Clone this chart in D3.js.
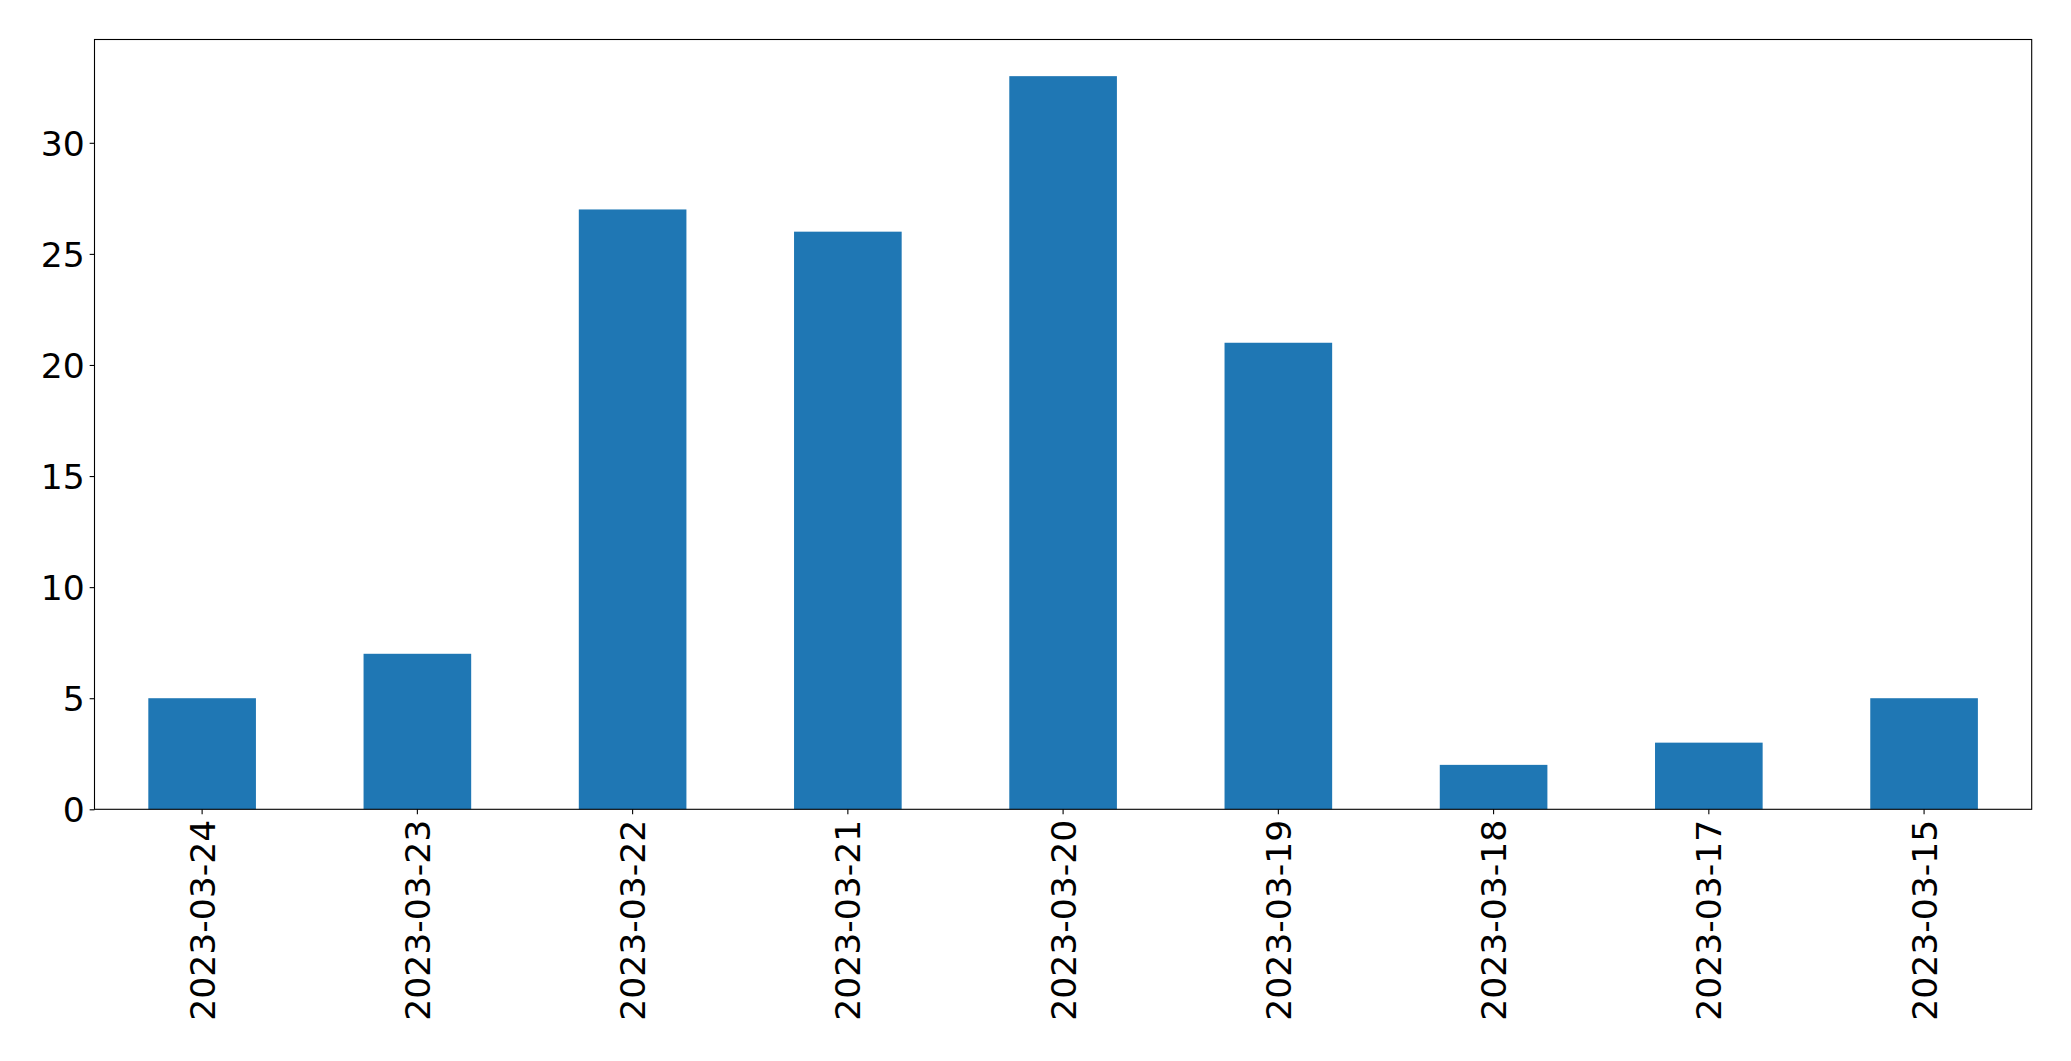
<!DOCTYPE html>
<html><head><meta charset="utf-8">
<script src="https://cdn.jsdelivr.net/npm/d3@7"></script>
<style>html,body{margin:0;padding:0;background:#fff;}svg{display:block;}</style>
</head><body>
<svg id="chart" width="2071" height="1061"></svg>
<script>
const categories = ["2023-03-24","2023-03-23","2023-03-22","2023-03-21","2023-03-20","2023-03-19","2023-03-18","2023-03-17","2023-03-15"];
const values = [5,7,27,26,33,21,2,3,5];
const yTicks = [0,5,10,15,20,25,30];

const W = 2071, H = 1061;
const m = {left:94.5, right:2071-2031.7, top:39.5, bottom:1061-809.3};
const svg = d3.select("#chart");
const fontSize = 34.6;
const font = "DejaVu Sans";

const x = d3.scaleBand().domain(categories).range([m.left, W-m.right]).paddingInner(0.5).paddingOuter(0.25);
const yMax = d3.max(values)*1.05;
const y = d3.scaleLinear().domain([0, yMax]).range([H-m.bottom, m.top]);

svg.append("g").selectAll("rect").data(values).join("rect")
  .attr("x",(d,i)=>x(categories[i]))
  .attr("width",x.bandwidth())
  .attr("y",d=>y(d))
  .attr("height",d=>y(0)-y(d))
  .attr("fill","#1f77b4");

const xAxis = svg.append("g").attr("transform",`translate(0,${H-m.bottom})`)
  .call(d3.axisBottom(x).tickSize(4.86).tickPadding(4.86).tickSizeOuter(0));
xAxis.select(".domain").remove();
xAxis.selectAll(".tick line").attr("stroke","#000").attr("stroke-width",1.1);
xAxis.selectAll(".tick text")
  .attr("font-family",font).attr("font-size",fontSize).attr("fill","#000")
  .attr("text-anchor","end")
  .attr("transform","rotate(-90)")
  .attr("x",-10.5).attr("y",0).attr("dy","0.36em");

const yAxis = svg.append("g").attr("transform",`translate(${m.left},0)`)
  .call(d3.axisLeft(y).tickValues(yTicks).tickSize(4.86).tickPadding(4.86).tickSizeOuter(0));
yAxis.select(".domain").remove();
yAxis.selectAll(".tick line").attr("stroke","#000").attr("stroke-width",1.1);
yAxis.selectAll(".tick text").attr("font-family",font).attr("font-size",fontSize).attr("fill","#000").attr("dy","0.36em");

svg.append("rect").attr("x",m.left).attr("y",m.top)
  .attr("width",W-m.right-m.left).attr("height",H-m.bottom-m.top)
  .attr("fill","none").attr("stroke","#000").attr("stroke-width",1.1);
</script>
</body></html>
